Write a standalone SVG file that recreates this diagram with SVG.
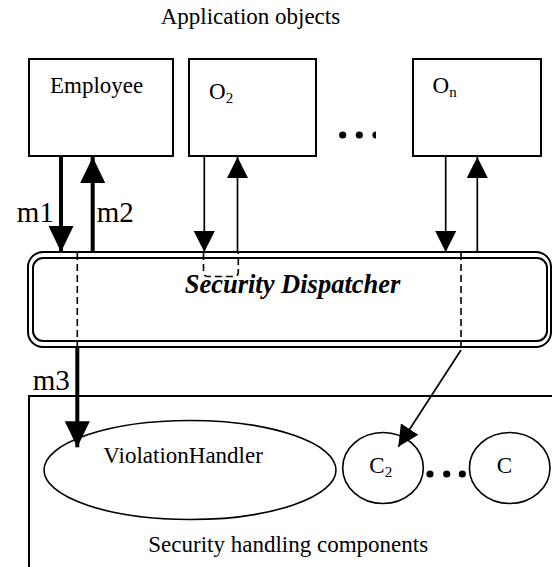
<svg xmlns="http://www.w3.org/2000/svg" width="552" height="567" viewBox="0 0 552 567">
<style>
  text { font-family: "Liberation Serif", "Times New Roman", serif; fill: #000; }
  .lbl { font-size: 23px; }
  .m { font-size: 29px; }
  .box { fill: #fff; stroke: #000; stroke-width: 2; }
  .shape { fill: #fff; stroke: #000; stroke-width: 1.6; }
  .thick { stroke: #000; stroke-width: 4; fill: none; }
  .thin { stroke: #000; stroke-width: 1.7; fill: none; }
  .dash { stroke: #000; stroke-width: 1.6; fill: none; stroke-dasharray: 7 4; }
  .dot { fill: #000; }
</style>
<defs>
  <marker id="bigHead" markerUnits="userSpaceOnUse" markerWidth="26" markerHeight="25" refX="26" refY="12.5" orient="auto">
    <path d="M0,0 L26,12.5 L0,25 z" fill="#000"/>
  </marker>
  <marker id="smallHead" markerUnits="userSpaceOnUse" markerWidth="21" markerHeight="21" refX="21" refY="10.5" orient="auto">
    <path d="M0,0 L21,10.5 L0,21 z" fill="#000"/>
  </marker>
</defs>

<rect width="552" height="567" fill="#fff"/>

<text class="lbl" x="160.7" y="24">Application objects</text>

<g id="employee">
  <rect class="box" x="29" y="59" width="144" height="97"/>
  <text class="lbl" x="50" y="93">Employee</text>
</g>
<g id="o2">
  <rect class="box" x="189" y="59" width="127" height="97"/>
  <text class="lbl" x="209" y="99">O<tspan font-size="15" dy="4">2</tspan></text>
</g>
<g id="top-ellipsis">
  <circle class="dot" cx="342.7" cy="135" r="3.6"/>
  <circle class="dot" cx="359.3" cy="135" r="3.6"/>
  <path class="dot" d="M376,131.4 A3.6,3.6 0 0 0 376,138.6 z"/>
</g>
<g id="on">
  <rect class="box" x="413" y="59" width="128" height="97"/>
  <text class="lbl" x="432.5" y="93">O<tspan font-size="15" dy="3.5">n</tspan></text>
</g>

<g id="dispatcher">
  <rect x="28" y="252" width="523" height="95" rx="15" ry="15" fill="#fff" stroke="#000" stroke-width="2"/>
  <rect x="33" y="258" width="514" height="83" rx="10" ry="10" fill="none" stroke="#000" stroke-width="2"/>
  <text x="292.5" y="292.7" text-anchor="middle" font-size="26.5" font-weight="bold" font-style="italic">Security Dispatcher</text>
</g>

<g id="components">
  <rect class="box" x="29" y="396" width="530" height="180"/>
  <text class="lbl" x="148.3" y="551.7" font-size="23.8">Security handling components</text>
</g>
<g id="violation-handler">
  <ellipse class="shape" cx="190" cy="470" rx="146" ry="49.5"/>
  <text class="lbl" x="103.3" y="463.3" font-size="22.7">ViolationHandler</text>
</g>
<g id="c2">
  <ellipse class="shape" cx="383" cy="468" rx="40.3" ry="35.5"/>
  <text class="lbl" x="369.3" y="473.3">C<tspan font-size="15" dy="3.5">2</tspan></text>
</g>
<g id="bottom-ellipsis">
  <circle class="dot" cx="430" cy="474" r="3.6"/>
  <circle class="dot" cx="446.7" cy="474" r="3.6"/>
  <circle class="dot" cx="462.3" cy="474" r="3.6"/>
</g>
<g id="c">
  <ellipse class="shape" cx="509.7" cy="468" rx="40.3" ry="35.5"/>
  <text class="lbl" x="496.7" y="473.3">C</text>
</g>

<g id="connectors">
  <!-- m1 / m2 -->
  <line class="thick" x1="61" y1="156" x2="61" y2="252" marker-end="url(#bigHead)"/>
  <line class="thick" x1="92.7" y1="252" x2="92.7" y2="157" marker-end="url(#bigHead)"/>
  <text class="m" x="16.7" y="222.3">m1</text>
  <text class="m" x="96.7" y="222.3">m2</text>
  <!-- O2 -->
  <line class="thin" x1="204.3" y1="156" x2="204.3" y2="252" marker-end="url(#smallHead)"/>
  <line class="thin" x1="237.5" y1="252" x2="237.5" y2="157" marker-end="url(#smallHead)"/>
  <path class="dash" d="M203.5,253 V272 Q203.5,276.5 208,276.5 H234 Q238.3,276.5 238.3,272 V253"/>
  <!-- On -->
  <line class="thin" x1="445.7" y1="156" x2="445.7" y2="252" marker-end="url(#smallHead)"/>
  <line class="thin" x1="477.3" y1="252" x2="477.3" y2="157" marker-end="url(#smallHead)"/>
  <!-- m1 through dispatcher to ViolationHandler (m3) -->
  <line class="dash" x1="77.3" y1="253" x2="77.3" y2="346"/>
  <line class="thick" x1="77.3" y1="347" x2="77.3" y2="447.3" marker-end="url(#bigHead)"/>
  <text class="m" x="32.7" y="390" font-size="30">m3</text>
  <!-- On through dispatcher to C2 -->
  <line class="dash" x1="461" y1="253" x2="461" y2="348"/>
  <line class="thin" x1="461" y1="350" x2="398.3" y2="446.7" marker-end="url(#smallHead)"/>
</g>
</svg>
